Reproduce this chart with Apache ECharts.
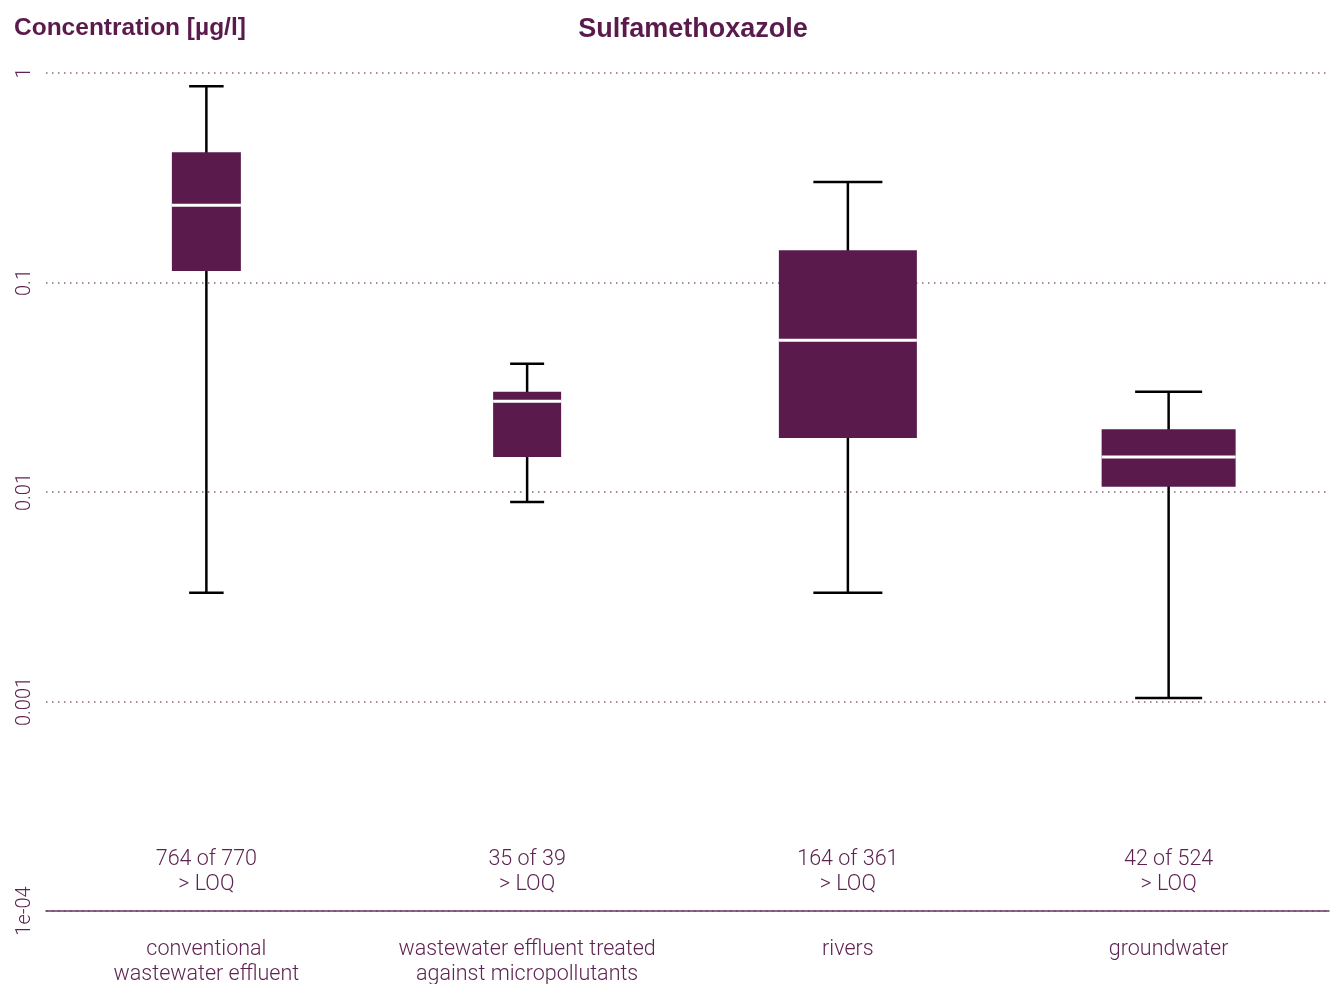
<!DOCTYPE html>
<html>
<head>
<meta charset="utf-8">
<title>Sulfamethoxazole</title>
<script src="https://cdn.jsdelivr.net/npm/echarts@6/dist/echarts.min.js"></script>
<style>
  html, body { margin: 0; padding: 0; background: #fff; }
  #chart { width: 1338px; height: 984px; }
</style>
</head>
<body>
<div id="chart"></div>
<script>
// categories and sample counts
const categories = ['conventional\nwastewater effluent', 'wastewater effluent treated\nagainst micropollutants', 'rivers', 'groundwater']
const detected = [764, 35, 164, 42]
const totals = [770, 39, 361, 524]
// box statistics [min whisker, Q1, median, Q3, max whisker] in µg/l
const lowWhisker = [0.0033, 0.00895, 0.0033, 0.00104]
const q1 = [0.1136, 0.0147, 0.0181, 0.0106]
const median = [0.234, 0.0271, 0.053, 0.0147]
const q3 = [0.418, 0.0301, 0.1426, 0.01995]
const highWhisker = [0.864, 0.0409, 0.302, 0.0301]
const yTickLabels = ['1e-04', '0.001', '0.01', '0.1', '1']

// drawing style (pixel widths of each box)
const boxWidths = [69, 68, 138, 134]
const purple = '#5b1a4c'
const textPurple = '#5e2352'

const boxData = categories.map((c, i) => [i, lowWhisker[i], q1[i], median[i], q3[i], highWhisker[i]])
const countLabels = categories.map((c, i) => detected[i] + ' of ' + totals[i] + '\n> LOQ')

const myChart = echarts.init(document.getElementById('chart'))

function renderBox(params, api) {
  const i = api.value(0)
  const w = boxWidths[i]
  const pLow = api.coord([i, api.value(1)])
  const pQ1 = api.coord([i, api.value(2)])
  const pMed = api.coord([i, api.value(3)])
  const pQ3 = api.coord([i, api.value(4)])
  const pHigh = api.coord([i, api.value(5)])
  const x = pMed[0]
  const cap = w / 2
  const lineStyle = { stroke: '#000', lineWidth: 2.5 }
  return {
    type: 'group',
    children: [
      { type: 'line', shape: { x1: x, y1: pLow[1], x2: x, y2: pHigh[1] }, style: lineStyle },
      { type: 'line', shape: { x1: x - cap / 2, y1: pLow[1], x2: x + cap / 2, y2: pLow[1] }, style: lineStyle },
      { type: 'line', shape: { x1: x - cap / 2, y1: pHigh[1], x2: x + cap / 2, y2: pHigh[1] }, style: lineStyle },
      { type: 'rect', shape: { x: x - w / 2, y: pQ3[1], width: w, height: pQ1[1] - pQ3[1] }, style: { fill: purple } },
      { type: 'line', shape: { x1: x - w / 2, y1: pMed[1], x2: x + w / 2, y2: pMed[1] }, style: { stroke: '#fff', lineWidth: 3 } }
    ]
  }
}

const option = {
  animation: false,
  title: [
    {
      text: 'Sulfamethoxazole',
      left: 688,
      top: 11,
      textAlign: 'center',
      textStyle: { fontFamily: 'Liberation Sans', fontWeight: 'bold', fontSize: 27, color: purple }
    },
    {
      text: 'Concentration [µg/l]',
      left: 9,
      top: 11,
      textStyle: { fontFamily: 'Liberation Sans', fontWeight: 'bold', fontSize: 24.5, color: purple }
    }
  ],
  grid: {
    left: 46,
    right: 9,
    top: 73,
    bottom: 73,
    outerBoundsMode: 'none'
  },
  xAxis: [
    {
      type: 'category',
      data: categories,
      position: 'bottom',
      axisLine: { show: true, lineStyle: { color: '#6b3563', width: 1.5 } },
      axisTick: { show: false },
      axisLabel: {
        interval: 0,
        hideOverlap: false,
        margin: 26,
        fontFamily: 'Roboto',
        fontWeight: 300,
        fontSize: 21.5,
        lineHeight: 25,
        color: textPurple
      }
    },
    {
      type: 'category',
      data: countLabels,
      position: 'bottom',
      axisLine: { show: false },
      axisTick: { show: false },
      axisLabel: {
        interval: 0,
        inside: true,
        margin: 14,
        fontFamily: 'Roboto',
        fontWeight: 300,
        fontSize: 21.5,
        lineHeight: 25,
        color: textPurple
      }
    }
  ],
  yAxis: {
    type: 'log',
    logBase: 10,
    min: 0.0001,
    max: 1,
    axisLine: { show: false },
    axisTick: { show: false },
    axisLabel: {
      rotate: 90,
      margin: 11,
      fontFamily: 'Roboto',
      fontWeight: 300,
      fontSize: 20,
      color: textPurple,
      formatter: function (v) {
        const k = Math.round(Math.log10(v)) + 4
        return yTickLabels[k]
      }
    },
    splitLine: {
      show: true,
      lineStyle: { color: '#8c6585', width: 1.5, type: [1.5, 4.5] }
    }
  },
  series: [
    {
      type: 'custom',
      name: 'Sulfamethoxazole',
      renderItem: renderBox,
      encode: { x: 0, y: [1, 2, 3, 4, 5] },
      data: boxData
    }
  ]
}

option && myChart.setOption(option)
</script>
</body>
</html>
